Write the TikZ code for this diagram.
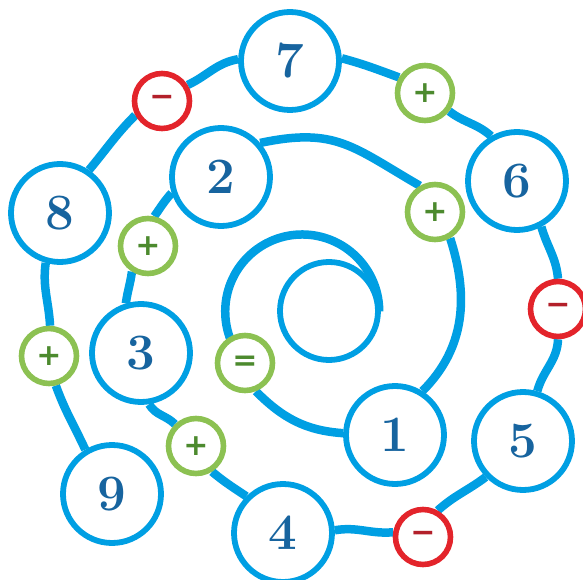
\documentclass[tikz,border=0pt]{standalone}
\usepackage{fontspec}
\usepackage{xcolor}
\usepackage{tikz}
\usetikzlibrary{backgrounds}
\newfontfamily\signfont{DejaVu Sans}
\definecolor{cLine}{HTML}{009FE3}
\definecolor{cDigit}{HTML}{17649F}
\definecolor{cPlus}{HTML}{8CC152}
\definecolor{cPlusT}{HTML}{4C8A2E}
\definecolor{cMinus}{HTML}{E3242B}
\definecolor{cMinusT}{HTML}{B3202A}

\begin{document}
\begin{tikzpicture}[x=1pt, y=1pt,
  num/.style={circle, draw=cLine, line width=5.8pt, fill=white, minimum size=98pt, inner sep=0pt, text=cDigit, font=\bfseries\fontsize{51}{51}\selectfont},
  plusbox/.style={circle, draw=cPlus, line width=5.6pt, fill=white, minimum size=55pt, inner sep=0pt, text=cPlusT, font=\signfont\bfseries\fontsize{30}{30}\selectfont},
  minusbox/.style={plusbox, draw=cMinus, text=cMinusT},
  spiral/.style={draw=cLine, line width=8.5pt}
]
\useasboundingbox (0,0) rectangle (583,579);

\node[num] (n7) at (290,518) {7};
\node[num] (n6) at (517,398) {6};
\node[num] (n2) at (221,402) {2};
\node[num] (n8) at (60,366) {8};
\node[num] (n3) at (141,226) {3};
\node[num] (n1) at (395,144) {1};
\node[num] (n5) at (523,138) {5};
\node[num] (n9) at (112,85) {9};
\node[num] (n4) at (283,46) {4};
\node[num] (ans) at (329,268) {};

\node[minusbox] (m1) at (162,478) {−};
\node[plusbox] (p1) at (425,486) {+};
\node[plusbox] (p2) at (435,367) {+};
\node[minusbox] (m2) at (558,270) {−};
\node[minusbox] (m3) at (423,42) {−};
\node[plusbox] (p3) at (148,333) {+};
\node[plusbox] (p4) at (49,223) {+};
\node[plusbox] (eq) at (245,216) {=};
\node[plusbox] (p5) at (196,133) {+};

\begin{scope}[on background layer]
\draw[spiral] (n9.121) to[out=115, in=290] (p4.283);
\draw[spiral] (p4.88) to[out=93, in=262] (n8.254);
\draw[spiral] (n8.56) to[out=50, in=225] (m1.208);
\draw[spiral] (m1.32) to[out=25, in=190] (n7.178);
\draw[spiral] (n7.3) to[out=-15, in=160] (p1.149);
\draw[spiral] (p1.323) to[out=-38, in=138] (n6.120);
\draw[spiral] (n6.298) to[out=-74, in=95] (m2.90);
\draw[spiral] (m2.270) to[out=-92, in=75] (n5.74);
\draw[spiral] (n5.224) to[out=217, in=42] (m3.61);
\draw[spiral] (m3.171) to[out=185, in=10] (n4.3);
\draw[spiral] (n4.135) to[out=146, in=-40] (p5.302);
\draw[spiral] (p5.134) to[out=135, in=-60] (n3.279);
\draw[spiral] (n3.107) to[out=82, in=262] (p3.238);
\draw[spiral] (p3.78) to[out=55, in=228] (n2.198);
\draw[spiral] (n2.41) to[out=12, in=150, looseness=1.2] (p2.120);
\draw[spiral] (p2.300) to[out=-72, in=45] (n1.58);
\draw[spiral] (n1.178) to[out=176, in=-45] (eq.291);
\draw[spiral] (eq.center) arc[start angle=222, end angle=0, radius=77];
\end{scope}
\end{tikzpicture}
\end{document}
